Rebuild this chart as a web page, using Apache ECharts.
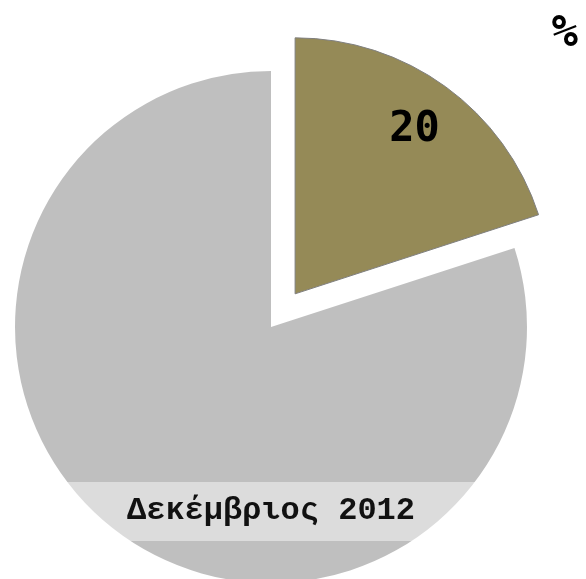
<!DOCTYPE html>
<html>
<head>
<meta charset="utf-8">
<script src="https://cdn.jsdelivr.net/npm/echarts@6/dist/echarts.min.js"></script>
<style>html,body{margin:0;padding:0;background:#fff;}#c{width:586px;height:579px;}</style>
</head>
<body>
<div id="c"></div>
<script>
var categories = ['A', 'B'];
var values = [20, 80];
var unitLabel = '%';
var periodLabel = 'Δεκέμβριος 2012';

var chart = echarts.init(document.getElementById('c'), null, {renderer: 'canvas'});
var H = 579;
var grayBand = {
  type: 'linear', x: 0, y: 0, x2: 0, y2: H, global: true,
  colorStops: [
    {offset: 0, color: '#bfbfbf'},
    {offset: 482 / H, color: '#bfbfbf'},
    {offset: 482 / H, color: '#dcdcdc'},
    {offset: 541 / H, color: '#dcdcdc'},
    {offset: 541 / H, color: '#bfbfbf'},
    {offset: 1, color: '#bfbfbf'}
  ]
};
var colors = ['#958a57', grayBand];
var borders = [{borderColor: '#7f7f7f', borderWidth: 1}, {borderWidth: 0}];

var mainData = categories.map(function (c, i) {
  return {
    name: c, value: values[i], selected: i === 0,
    itemStyle: Object.assign({color: colors[i]}, borders[i])
  };
});
var labelData = categories.map(function (c, i) {
  return {
    name: c, value: values[i], selected: i === 0,
    label: {show: i === 0}
  };
});

chart.setOption({
  animation: false,
  tooltip: {show: false},
  title: [{
    text: unitLabel, right: 3, top: 8,
    textStyle: {fontFamily: 'DejaVu Sans Mono', fontWeight: 'bold', fontSize: 44, color: '#000'}
  }],
  series: [{
    type: 'pie',
    center: [271, 327],
    radius: [0, 256],
    startAngle: 90,
    selectedMode: 'single',
    selectedOffset: 41,
    silent: true,
    label: {show: false},
    labelLine: {show: false},
    emphasis: {disabled: true},
    data: mainData
  }, {
    type: 'pie',
    center: [271, 327],
    radius: [0, 400],
    startAngle: 90,
    selectedMode: 'single',
    selectedOffset: 41,
    silent: true,
    z: 3,
    itemStyle: {color: 'rgba(0,0,0,0)', borderWidth: 0},
    label: {
      position: 'inside', formatter: '{c}',
      fontFamily: 'DejaVu Sans Mono', fontWeight: 'bold', fontSize: 42, color: '#000'
    },
    labelLine: {show: false},
    emphasis: {disabled: true},
    data: labelData
  }],
  graphic: [{
    type: 'text', x: 271, y: 511, z: 10,
    style: {
      text: periodLabel, align: 'center', verticalAlign: 'middle',
      fontFamily: 'Liberation Mono', fontWeight: 'bold', fontSize: 32, fill: '#111'
    }
  }]
});
</script>
</body>
</html>
